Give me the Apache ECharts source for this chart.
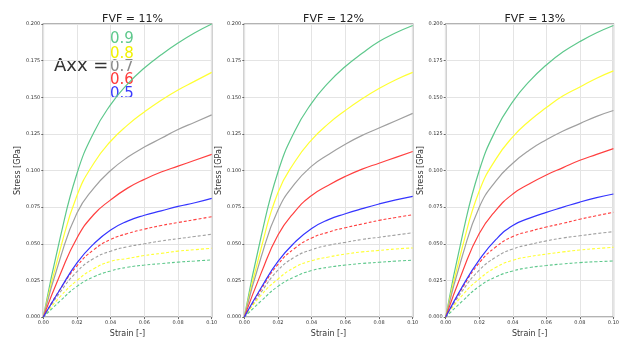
<!DOCTYPE html>
<html>
<head>
<meta charset="utf-8">
<script src="https://cdn.jsdelivr.net/npm/echarts@6/dist/echarts.min.js"></script>
<style>html,body{margin:0;padding:0;background:#fff;}#c{width:622px;height:343px;}</style>
</head>
<body>
<div id="c"></div>
<script>
// ---- data ----
const strain = [0, 0.01, 0.02, 0.03, 0.04, 0.05, 0.06, 0.07, 0.08, 0.09, 0.10];
const panelTitles = ['FVF = 11%', 'FVF = 12%', 'FVF = 13%'];
const axxLabels = ['0.9', '0.8', '0.7', '0.6', '0.5'];

// FVF = 11%
const p1_solid09 = [0, 0.054, 0.098, 0.126, 0.145, 0.159, 0.170, 0.179, 0.187, 0.194, 0.200];
const p1_solid08 = [0, 0.046, 0.083, 0.105, 0.120, 0.131, 0.140, 0.148, 0.155, 0.161, 0.167];
const p1_solid07 = [0, 0.040, 0.071, 0.088, 0.100, 0.109, 0.116, 0.122, 0.128, 0.133, 0.138];
const p1_solid06 = [0, 0.029, 0.054, 0.070, 0.080, 0.088, 0.094, 0.099, 0.103, 0.107, 0.111];
const p1_solid05 = [0, 0.019, 0.037, 0.050, 0.0595, 0.0655, 0.0695, 0.0725, 0.0755, 0.078, 0.081];
const p1_dash06 = [0, 0.019, 0.035, 0.046, 0.053, 0.057, 0.060, 0.0625, 0.0645, 0.0665, 0.0685];
const p1_dash07 = [0, 0.017, 0.031, 0.040, 0.045, 0.048, 0.050, 0.052, 0.0535, 0.055, 0.0565];
const p1_dash08 = [0, 0.014, 0.025, 0.033, 0.038, 0.040, 0.042, 0.0435, 0.045, 0.046, 0.047];
const p1_dash09 = [0, 0.011, 0.021, 0.0275, 0.0315, 0.034, 0.0355, 0.0365, 0.0375, 0.0383, 0.039];

// FVF = 12%
const p2_solid09 = [0, 0.055, 0.099, 0.127, 0.146, 0.160, 0.171, 0.180, 0.188, 0.194, 0.199];
const p2_solid08 = [0, 0.047, 0.085, 0.106, 0.121, 0.132, 0.141, 0.149, 0.156, 0.162, 0.167];
const p2_solid07 = [0, 0.041, 0.073, 0.091, 0.103, 0.111, 0.118, 0.124, 0.129, 0.134, 0.139];
const p2_solid06 = [0, 0.030, 0.056, 0.072, 0.083, 0.090, 0.096, 0.101, 0.105, 0.109, 0.113];
const p2_solid05 = [0, 0.020, 0.038, 0.051, 0.0605, 0.0665, 0.0705, 0.074, 0.0772, 0.080, 0.0824];
const p2_dash06 = [0, 0.019, 0.036, 0.047, 0.054, 0.058, 0.061, 0.0635, 0.066, 0.068, 0.0698];
const p2_dash07 = [0, 0.017, 0.032, 0.041, 0.046, 0.049, 0.051, 0.053, 0.0545, 0.056, 0.0576];
const p2_dash08 = [0, 0.015, 0.026, 0.034, 0.0385, 0.041, 0.043, 0.0445, 0.0455, 0.0465, 0.0472];
const p2_dash09 = [0, 0.011, 0.021, 0.0275, 0.0318, 0.034, 0.0355, 0.0366, 0.0374, 0.0382, 0.0388];

// FVF = 13%
const p3_solid09 = [0, 0.056, 0.100, 0.128, 0.147, 0.161, 0.172, 0.181, 0.188, 0.194, 0.199];
const p3_solid08 = [0, 0.048, 0.086, 0.108, 0.123, 0.134, 0.143, 0.151, 0.157, 0.163, 0.168];
const p3_solid07 = [0, 0.042, 0.075, 0.093, 0.105, 0.114, 0.121, 0.127, 0.132, 0.137, 0.141];
const p3_solid06 = [0, 0.031, 0.057, 0.073, 0.084, 0.091, 0.097, 0.102, 0.107, 0.111, 0.115];
const p3_solid05 = [0, 0.021, 0.039, 0.053, 0.0625, 0.0675, 0.0715, 0.075, 0.0785, 0.0815, 0.084];
const p3_dash06 = [0, 0.020, 0.037, 0.048, 0.055, 0.0585, 0.0615, 0.064, 0.0668, 0.0692, 0.0715];
const p3_dash07 = [0, 0.018, 0.032, 0.041, 0.0465, 0.0495, 0.052, 0.054, 0.0555, 0.057, 0.0583];
const p3_dash08 = [0, 0.015, 0.026, 0.034, 0.0388, 0.0413, 0.043, 0.0445, 0.0458, 0.0468, 0.0476];
const p3_dash09 = [0, 0.011, 0.021, 0.0275, 0.0315, 0.0338, 0.0352, 0.0363, 0.0372, 0.0378, 0.0383];

const panels = [
  {solid: [p1_solid09, p1_solid08, p1_solid07, p1_solid06, p1_solid05], dash: [p1_dash06, p1_dash07, p1_dash08, p1_dash09]},
  {solid: [p2_solid09, p2_solid08, p2_solid07, p2_solid06, p2_solid05], dash: [p2_dash06, p2_dash07, p2_dash08, p2_dash09]},
  {solid: [p3_solid09, p3_solid08, p3_solid07, p3_solid06, p3_solid05], dash: [p3_dash06, p3_dash07, p3_dash08, p3_dash09]}
];

// ---- styling ----
const FONT = 'DejaVu Sans';
const solidColors = ['#5ec88c', '#ffff33', '#a0a0a0', '#ff4040', '#3535ff'];
const dashColors = ['#ff4040', '#a0a0a0', '#ffff33', '#5ec88c'];
const textColors = ['#5ec88c', '#f2f200', '#8a8a8a', '#ff3a3a', '#3a3aff'];
const gridLefts = [43.3, 244.3, 445.7];
const gridW = 168.4;

const grids = [], xAxes = [], yAxes = [], series = [], titles = [];
gridLefts.forEach((l, i) => {
  grids.push({left: l, top: 24, width: gridW, height: 301, show: true, borderColor: '#9a9a9a', borderWidth: 1.5, backgroundColor: 'transparent'});
  titles.push({text: panelTitles[i], left: l + gridW / 2, top: 9, textAlign: 'center',
    textStyle: {fontFamily: FONT, fontSize: 11, fontWeight: 'normal', color: '#222'}});
  xAxes.push({type: 'value', gridIndex: i, min: 0, max: 0.1, interval: 0.02,
    name: 'Strain [-]', nameLocation: 'middle', nameGap: 9,
    nameTextStyle: {fontFamily: FONT, fontSize: 8, color: '#333'},
    axisLine: {show: false}, axisTick: {show: true, length: 2, lineStyle: {color: '#666'}},
    axisLabel: {fontFamily: FONT, fontSize: 5, color: '#333', margin: 3, formatter: v => v.toFixed(2)},
    splitLine: {show: true, lineStyle: {color: '#e4e4e4', width: 1}}});
  yAxes.push({type: 'value', gridIndex: i, min: 0, max: 0.2, interval: 0.025,
    name: 'Stress [GPa]', nameLocation: 'middle', nameGap: 21,
    nameTextStyle: {fontFamily: FONT, fontSize: 8, color: '#333'},
    axisLine: {show: false}, axisTick: {show: true, length: 2, lineStyle: {color: '#666'}},
    axisLabel: {fontFamily: FONT, fontSize: 5, color: '#333', margin: 3, formatter: v => v.toFixed(3)},
    splitLine: {show: true, lineStyle: {color: '#e4e4e4', width: 1}}});
  const p = panels[i];
  p.dash.forEach((arr, k) => {
    series.push({type: 'line', xAxisIndex: i, yAxisIndex: i, showSymbol: false, smooth: 0.5, silent: true,
      data: strain.map((x, j) => [x, arr[j]]),
      lineStyle: {color: dashColors[k], width: 1.1, type: [3, 2]}});
  });
  p.solid.forEach((arr, k) => {
    series.push({type: 'line', xAxisIndex: i, yAxisIndex: i, showSymbol: false, smooth: 0.5, silent: true,
      data: strain.map((x, j) => [x, arr[j]]),
      lineStyle: {color: solidColors[k], width: 1.2, type: 'solid'}});
  });
});

const numY = [39.5, 54, 67.5, 80, 94.5];
const graphic = [{type: 'text', left: 54, top: 57, style: {text: 'Axx =', fontFamily: FONT, fontSize: 18, fill: '#333'}}];
axxLabels.forEach((t, k) => {
  graphic.push({type: 'text', x: 110, y: numY[k], style: {text: t, fontFamily: FONT, fontSize: 15, fill: textColors[k], verticalAlign: 'middle'}});
});

const chart = echarts.init(document.getElementById('c'), null, {renderer: 'canvas'});
chart.setOption({
  animation: false,
  backgroundColor: '#fff',
  title: titles,
  grid: grids,
  xAxis: xAxes,
  yAxis: yAxes,
  series: series,
  graphic: graphic
});
</script>
</body>
</html>
